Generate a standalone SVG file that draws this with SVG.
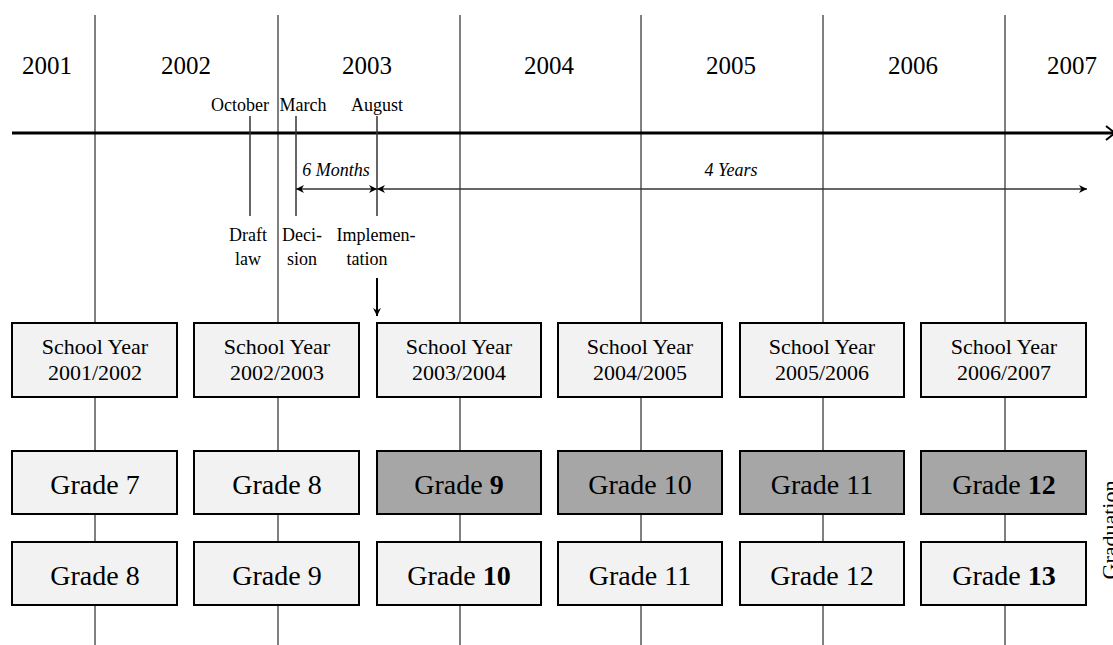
<svg xmlns="http://www.w3.org/2000/svg" width="1113" height="645" viewBox="0 0 1113 645">
<style>
.grid{stroke:#000;stroke-width:1}
.tick{stroke:#333;stroke-width:1.5}
.t{font-family:"Liberation Serif","Times New Roman",serif;fill:#000;text-anchor:middle}
.yr{font-size:25px}
.mo{font-size:18px}
.sy{font-size:22px}
.gr{font-size:28px}
.box{fill:#f2f2f2;stroke:#000;stroke-width:2}
.dark{fill:#a6a6a6;stroke:#000;stroke-width:2}
</style>
<defs>
<marker id="ah" viewBox="0 0 10 10" refX="10" refY="5" markerWidth="8" markerHeight="8" orient="auto-start-reverse" markerUnits="userSpaceOnUse">
<path d="M0,0 L10,5 L0,10 L3,5 z" fill="#000"/>
</marker>
</defs>
<rect width="1113" height="645" fill="#fff"/>
<g id="grid">
<line class="grid" x1="95" y1="15" x2="95" y2="645"/>
<line class="grid" x1="278" y1="15" x2="278" y2="645"/>
<line class="grid" x1="460" y1="15" x2="460" y2="645"/>
<line class="grid" x1="641" y1="15" x2="641" y2="645"/>
<line class="grid" x1="823" y1="15" x2="823" y2="645"/>
<line class="grid" x1="1005" y1="15" x2="1005" y2="645"/>
</g>
<g id="years">
<text class="t yr" x="47" y="74">2001</text>
<text class="t yr" x="186" y="74">2002</text>
<text class="t yr" x="367" y="74">2003</text>
<text class="t yr" x="549" y="74">2004</text>
<text class="t yr" x="731" y="74">2005</text>
<text class="t yr" x="913" y="74">2006</text>
<text class="t yr" x="1072" y="74">2007</text>
</g>
<g id="connectors">
<line x1="12" y1="133" x2="1113" y2="133" stroke="#000" stroke-width="3"/>
<path d="M1106,126 L1115,133 L1106,140" fill="none" stroke="#000" stroke-width="2"/>
<line class="tick" x1="250" y1="116" x2="250" y2="216"/>
<line class="tick" x1="296" y1="116" x2="296" y2="216"/>
<line class="tick" x1="377" y1="116" x2="377" y2="216"/>
<line x1="296" y1="189" x2="377" y2="189" stroke="#333" stroke-width="1.5" marker-start="url(#ah)" marker-end="url(#ah)"/>
<line x1="377" y1="189" x2="1087" y2="189" stroke="#333" stroke-width="1.5" marker-start="url(#ah)" marker-end="url(#ah)"/>
<line x1="377" y1="278" x2="377" y2="316" stroke="#000" stroke-width="2" marker-end="url(#ah)"/>
</g>
<g id="months">
<text class="t mo" x="240" y="111">October</text>
<text class="t mo" x="303" y="111">March</text>
<text class="t mo" x="377" y="111">August</text>
<text class="t mo" x="336" y="176" font-style="italic">6 Months</text>
<text class="t mo" x="731" y="176" font-style="italic">4 Years</text>
<text class="t mo" x="248" y="241">Draft</text>
<text class="t mo" x="248" y="265">law</text>
<text class="t mo" x="302" y="241">Deci-</text>
<text class="t mo" x="302" y="265">sion</text>
<text class="t mo" x="376" y="241">Implemen-</text>
<text class="t mo" x="367" y="265">tation</text>
</g>
<g id="sy1"><rect class="box" x="12" y="323" width="165" height="74"/><text class="t sy" x="95" y="354">School Year</text><text class="t sy" x="95" y="380">2001/2002</text></g>
<g id="sy2"><rect class="box" x="194" y="323" width="165" height="74"/><text class="t sy" x="277" y="354">School Year</text><text class="t sy" x="277" y="380">2002/2003</text></g>
<g id="sy3"><rect class="box" x="377" y="323" width="164" height="74"/><text class="t sy" x="459" y="354">School Year</text><text class="t sy" x="459" y="380">2003/2004</text></g>
<g id="sy4"><rect class="box" x="558" y="323" width="164" height="74"/><text class="t sy" x="640" y="354">School Year</text><text class="t sy" x="640" y="380">2004/2005</text></g>
<g id="sy5"><rect class="box" x="740" y="323" width="164" height="74"/><text class="t sy" x="822" y="354">School Year</text><text class="t sy" x="822" y="380">2005/2006</text></g>
<g id="sy6"><rect class="box" x="921" y="323" width="165" height="74"/><text class="t sy" x="1004" y="354">School Year</text><text class="t sy" x="1004" y="380">2006/2007</text></g>
<g id="ga1"><rect class="box" x="12" y="451" width="165" height="63"/><text class="t gr" x="95" y="494">Grade 7</text></g>
<g id="ga2"><rect class="box" x="194" y="451" width="165" height="63"/><text class="t gr" x="277" y="494">Grade 8</text></g>
<g id="ga3"><rect class="dark" x="377" y="451" width="164" height="63"/><text class="t gr" x="459" y="494">Grade <tspan font-weight="bold">9</tspan></text></g>
<g id="ga4"><rect class="dark" x="558" y="451" width="164" height="63"/><text class="t gr" x="640" y="494">Grade 10</text></g>
<g id="ga5"><rect class="dark" x="740" y="451" width="164" height="63"/><text class="t gr" x="822" y="494">Grade 11</text></g>
<g id="ga6"><rect class="dark" x="921" y="451" width="165" height="63"/><text class="t gr" x="1004" y="494">Grade <tspan font-weight="bold">12</tspan></text></g>
<g id="gb1"><rect class="box" x="12" y="542" width="165" height="63"/><text class="t gr" x="95" y="585">Grade 8</text></g>
<g id="gb2"><rect class="box" x="194" y="542" width="165" height="63"/><text class="t gr" x="277" y="585">Grade 9</text></g>
<g id="gb3"><rect class="box" x="377" y="542" width="164" height="63"/><text class="t gr" x="459" y="585">Grade <tspan font-weight="bold">10</tspan></text></g>
<g id="gb4"><rect class="box" x="558" y="542" width="164" height="63"/><text class="t gr" x="640" y="585">Grade 11</text></g>
<g id="gb5"><rect class="box" x="740" y="542" width="164" height="63"/><text class="t gr" x="822" y="585">Grade 12</text></g>
<g id="gb6"><rect class="box" x="921" y="542" width="165" height="63"/><text class="t gr" x="1004" y="585">Grade <tspan font-weight="bold">13</tspan></text></g>
<g id="graduation"><text class="t" font-size="22" transform="translate(1117,530) rotate(-90)">Graduation</text></g>
</svg>
